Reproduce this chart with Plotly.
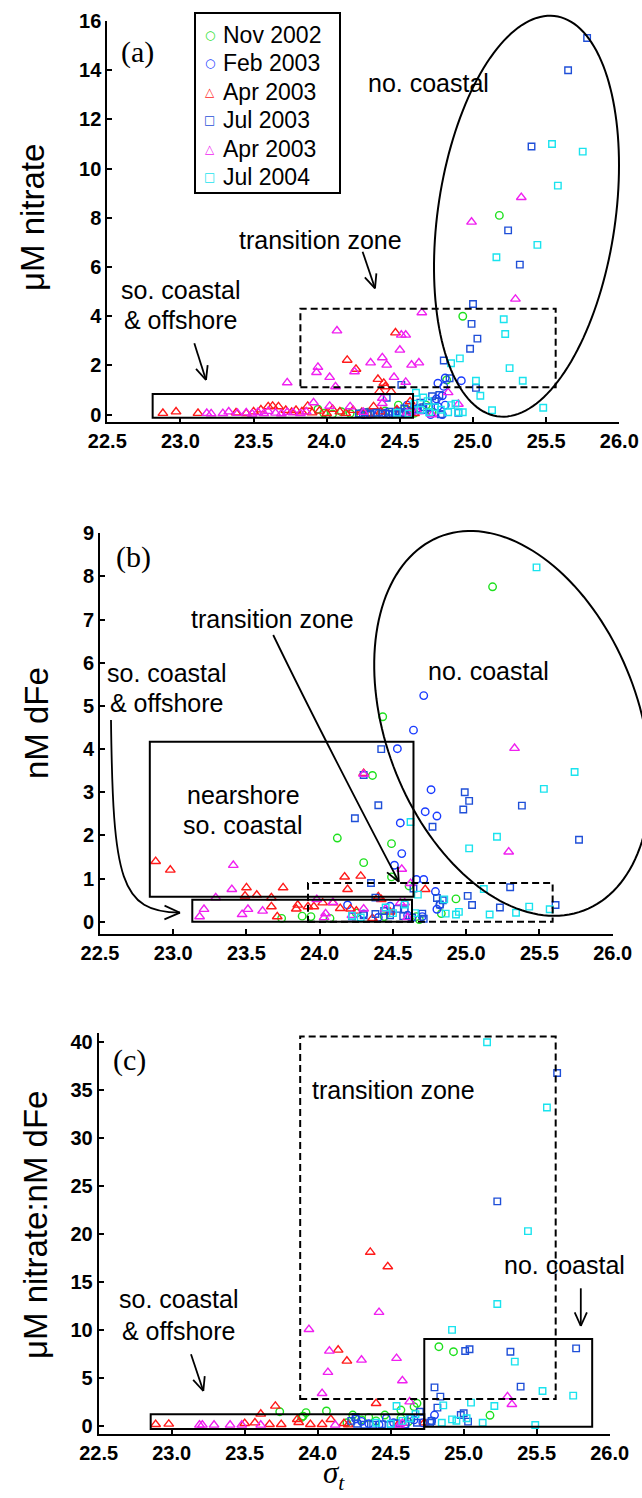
import numpy as np
import plotly.graph_objects as go

W, H = 642, 1498

# ---------------- data ----------------
x_ticks = [22.5, 23.0, 23.5, 24.0, 24.5, 25.0, 25.5, 26.0]
x_ticktext = ["22.5", "23.0", "23.5", "24.0", "24.5", "25.0", "25.5", "26.0"]
a_yticks = [0, 2, 4, 6, 8, 10, 12, 14, 16]
b_yticks = [0, 1, 2, 3, 4, 5, 6, 7, 8, 9]
c_yticks = [0, 5, 10, 15, 20, 25, 30, 35, 40]

series_names = ["Nov 2002", "Feb 2003", "Apr 2003", "Jul 2003", "Apr 2003", "Jul 2004"]

# panel (a): sigma_t vs uM nitrate
a_nov_x = [25.18, 24.93, 24.82, 24.49, 24.68, 23.94, 23.98, 24.04, 24.10, 24.16, 24.23, 24.28, 24.33, 24.40, 24.45, 24.55, 24.60, 24.72]
a_nov_y = [8.10, 4.00, 1.41, 0.39, 0.39, 0.22, 0.06, 0.03, 0.12, 0.05, 0.04, 0.10, 0.08, 0.15, 0.02, 0.20, 0.06, 0.10]
a_feb_x = [24.92, 24.76, 24.81, 24.80, 24.79, 24.75, 24.81, 24.76, 24.71, 24.79, 24.55, 24.62, 24.30, 24.36, 24.42, 24.48, 24.52, 24.58, 24.66, 24.25, 24.40, 24.50]
a_feb_y = [1.38, 1.28, 1.49, 1.15, 0.77, 0.64, 0.39, 0.33, 0.00, 0.00, 0.39, 0.25, 0.05, 0.10, 0.02, 0.15, 0.08, 0.12, 0.20, 0.00, 0.06, 0.03]
a_apr_x = [24.47, 24.14, 24.20, 24.35, 24.40, 24.36, 24.44, 24.57, 24.39, 22.88, 22.97, 23.12, 23.38, 23.45, 23.50, 23.55, 23.60, 23.63, 23.67, 23.72, 23.76, 23.79, 23.83, 23.87, 23.90, 23.95, 24.00, 24.04, 24.09, 24.13, 24.18, 24.24, 24.28, 24.32, 24.37, 24.48, 24.56, 24.60]
a_apr_y = [3.33, 2.22, 1.85, 1.44, 1.14, 0.94, 0.94, 0.53, 1.28, 0.06, 0.12, 0.06, 0.08, 0.05, 0.12, 0.20, 0.33, 0.35, 0.33, 0.18, 0.10, 0.18, 0.12, 0.35, 0.08, 0.15, 0.05, 0.22, 0.12, 0.06, 0.18, 0.10, 0.04, 0.33, 0.12, 0.20, 0.16, 0.05]
a_jul03_x = [25.78, 25.65, 25.40, 25.24, 25.32, 25.00, 24.99, 25.03, 24.98, 24.80, 25.02, 24.84, 24.51, 24.41, 24.90, 24.78, 24.77, 24.72, 24.64, 24.70, 24.74, 24.22, 24.26, 24.30, 24.34, 24.38, 24.43, 24.47, 24.50, 24.54, 24.58, 24.62, 24.66, 24.28, 24.45, 24.53]
a_jul03_y = [15.31, 14.00, 10.90, 7.49, 6.10, 4.50, 3.69, 3.09, 2.68, 2.20, 1.09, 1.48, 1.21, 0.69, 0.08, 0.02, 0.80, 0.75, 0.49, 0.30, 0.55, 0.05, 0.10, 0.02, 0.08, 0.04, 0.12, 0.06, 0.10, 0.03, 0.15, 0.20, 0.30, 0.00, 0.02, 0.25]
a_apr2_x = [25.33, 24.99, 25.29, 24.65, 24.07, 24.51, 24.54, 24.50, 24.38, 24.30, 24.41, 24.58, 24.63, 23.94, 23.93, 24.02, 24.19, 24.46, 24.54, 24.06, 23.73, 24.83, 24.38, 23.91, 24.90, 24.72, 23.18, 23.21, 23.29, 23.33, 23.39, 23.45, 23.49, 23.53, 23.57, 23.60, 23.65, 23.69, 23.73, 23.77, 23.82, 23.86, 24.02, 24.16, 24.25, 24.38, 24.55, 24.62]
a_apr2_y = [8.83, 7.83, 4.70, 4.15, 3.41, 3.24, 3.24, 2.63, 2.32, 2.11, 2.02, 2.02, 2.11, 1.93, 1.72, 1.52, 1.75, 1.52, 1.32, 1.14, 1.30, 0.90, 0.67, 0.49, 0.43, 0.00, 0.06, 0.04, 0.05, 0.12, 0.06, 0.08, 0.03, 0.10, 0.05, 0.14, 0.07, 0.04, 0.10, 0.08, 0.05, 0.12, 0.35, 0.33, 0.10, 0.46, 0.08, 0.12]
a_jul04_x = [25.54, 25.75, 25.58, 25.44, 25.16, 25.21, 25.22, 24.91, 24.85, 25.25, 25.34, 25.02, 25.05, 25.13, 25.48, 24.61, 24.66, 24.85, 24.83, 24.90, 24.93, 24.69, 24.74, 24.60, 24.64, 24.70, 24.56, 24.48, 24.78, 24.88]
a_jul04_y = [11.00, 10.69, 9.31, 6.90, 6.40, 3.88, 3.28, 2.29, 2.09, 1.89, 1.38, 1.38, 0.77, 0.18, 0.28, 0.89, 0.70, 0.39, 0.10, 0.10, 0.10, 0.55, 0.30, 0.45, 0.20, 0.10, 0.05, 0.08, 0.20, 0.45]

# panel (b): sigma_t vs nM dFe
b_nov_x = [25.18, 24.43, 24.36, 24.12, 24.49, 24.30, 24.49, 24.61, 24.93, 24.83, 24.66, 23.74, 23.88, 23.94, 24.07, 24.25, 24.44, 24.68]
b_nov_y = [7.76, 4.75, 3.39, 1.94, 1.81, 1.37, 1.04, 0.83, 0.53, 0.19, 0.12, 0.08, 0.13, 0.12, 0.08, 0.20, 0.12, 0.05]
b_feb_x = [24.71, 24.64, 24.53, 24.76, 24.72, 24.80, 24.55, 24.56, 24.51, 24.66, 24.71, 24.79, 24.80, 24.70, 24.48, 24.19, 24.82, 24.40, 24.30, 24.60]
b_feb_y = [5.24, 4.44, 4.01, 3.06, 2.55, 2.45, 2.29, 1.58, 1.31, 0.98, 0.98, 0.70, 0.29, 0.12, 0.36, 0.39, 0.39, 0.10, 0.18, 0.15]
b_apr_x = [22.88, 22.98, 23.50, 23.75, 23.49, 23.57, 23.67, 23.67, 23.71, 23.85, 23.84, 23.92, 23.96, 24.02, 24.09, 24.14, 24.17, 24.28, 24.19, 24.21, 24.30, 24.40, 24.72, 24.36, 24.48, 24.25, 24.42]
b_apr_y = [1.40, 1.20, 0.79, 0.79, 0.60, 0.62, 0.56, 0.35, 0.12, 0.39, 0.30, 0.35, 0.35, 0.44, 0.44, 0.31, 1.04, 1.06, 0.75, 0.30, 3.44, 0.58, 0.75, 0.08, 0.23, 0.25, 0.52]
b_jul03_x = [24.42, 24.30, 24.40, 24.24, 24.77, 24.99, 25.02, 24.98, 25.38, 25.77, 25.30, 25.61, 25.23, 25.01, 25.04, 24.80, 24.84, 24.82, 24.64, 24.71, 24.35, 24.38, 24.57, 24.70, 24.58, 24.53, 24.48, 24.38, 24.30, 24.22, 24.44, 24.63]
b_jul03_y = [4.00, 3.40, 2.70, 2.40, 2.20, 3.00, 2.80, 2.60, 2.69, 1.90, 0.80, 0.39, 0.33, 0.60, 0.39, 0.55, 0.50, 0.40, 0.77, 0.07, 0.90, 0.56, 0.13, 0.19, 0.29, 0.30, 0.15, 0.18, 0.15, 0.12, 0.25, 0.10]
b_apr2_x = [25.33, 25.29, 24.56, 24.62, 24.30, 23.41, 23.40, 23.29, 23.21, 23.18, 23.51, 23.47, 23.61, 23.98, 24.09, 24.04, 24.03, 24.55, 24.58, 24.30, 24.22, 24.45, 24.60]
b_apr2_y = [4.02, 1.62, 1.22, 0.89, 3.42, 1.31, 0.75, 0.56, 0.29, 0.12, 0.29, 0.17, 0.25, 0.52, 0.45, 0.19, 0.10, 0.44, 0.44, 0.30, 0.15, 0.30, 0.10]
b_jul04_x = [25.48, 25.74, 25.53, 25.21, 25.02, 24.62, 25.12, 25.43, 25.57, 25.34, 25.16, 24.95, 24.93, 24.86, 24.67, 24.85, 24.22, 24.28, 24.50, 24.45, 24.58, 24.65]
b_jul04_y = [8.21, 3.47, 3.08, 1.97, 1.70, 2.31, 0.76, 0.35, 0.29, 0.21, 0.17, 0.23, 0.17, 0.19, 0.63, 0.52, 0.14, 0.10, 0.20, 0.33, 0.40, 0.20]

# panel (c): sigma_t vs nitrate:dFe ratio
c_nov_x = [24.83, 24.93, 25.18, 24.68, 24.66, 23.74, 23.92, 23.90, 23.89, 24.06, 24.24, 24.35, 24.46, 24.57, 24.57, 24.40, 24.30, 24.62, 24.20]
c_nov_y = [8.24, 7.72, 1.08, 2.33, 1.98, 1.46, 1.36, 1.00, 0.87, 1.53, 1.11, 0.87, 1.11, 1.63, 0.77, 0.50, 0.60, 0.40, 0.30]
c_feb_x = [24.80, 24.47, 24.26, 24.72, 24.35, 24.52, 24.60, 24.30, 24.42, 24.66, 24.78]
c_feb_y = [1.11, 0.77, 0.70, 0.30, 0.20, 0.30, 0.15, 0.45, 0.10, 0.60, 0.50]
c_apr_x = [24.36, 24.48, 24.14, 24.20, 24.40, 23.71, 23.61, 24.09, 23.86, 23.87, 22.89, 22.98, 23.50, 23.57, 23.67, 23.75, 23.95, 24.03, 24.18, 24.21, 24.73, 24.55]
c_apr_y = [18.1, 16.6, 7.9, 6.75, 2.33, 2.05, 1.22, 0.66, 0.66, 0.35, 0.14, 0.17, 0.24, 0.31, 0.14, 0.14, 0.14, 0.14, 0.24, 0.10, 0.31, 0.10]
c_jul03_x = [25.64, 25.23, 25.32, 25.01, 25.04, 25.77, 25.39, 24.80, 24.84, 24.82, 24.98, 25.00, 25.03, 24.78, 24.77, 24.70, 24.64, 24.23, 24.27, 24.32, 24.38, 24.44, 24.50, 24.54, 24.60, 24.68, 24.26]
c_jul03_y = [36.8, 23.4, 7.72, 7.79, 7.97, 8.07, 4.07, 4.00, 3.03, 1.88, 1.11, 1.29, 0.42, 0.49, 0.31, 1.46, 0.77, 0.50, 0.20, 0.10, 0.10, 0.15, 0.10, 0.25, 0.10, 0.30, 0.90]
c_apr2_x = [23.94, 24.08, 24.30, 24.42, 24.54, 24.58, 24.07, 24.03, 24.63, 25.30, 25.33, 23.19, 23.21, 23.29, 23.40, 23.48, 23.61, 24.12, 24.56, 24.58]
c_apr2_y = [10.05, 7.79, 6.85, 11.83, 7.03, 4.70, 5.57, 3.37, 2.50, 3.03, 2.23, 0.07, 0.07, 0.07, 0.07, 0.07, 0.07, 0.07, 0.07, 0.25]
c_jul04_x = [25.16, 25.57, 25.44, 25.23, 24.92, 25.35, 25.54, 25.75, 25.05, 25.21, 24.86, 24.54, 25.49, 25.13, 24.92, 24.95, 24.85, 25.02, 24.63, 24.67, 24.50, 24.40, 24.58]
c_jul04_y = [40.0, 33.2, 20.3, 12.7, 10.0, 6.68, 3.62, 3.13, 2.40, 2.05, 2.12, 2.05, 0.07, 0.31, 0.66, 0.52, 0.31, 0.77, 0.77, 1.20, 0.20, 0.30, 0.50]

# ---------------- styles ----------------
styles = [
    dict(symbol="circle-open", color="#1ee01e", size=7.5, glyph="○"),
    dict(symbol="circle-open", color="#1a3cff", size=7.5, glyph="○"),
    dict(symbol="triangle-up-open", color="#ff1a1a", size=8.5, glyph="△"),
    dict(symbol="square-open", color="#1f4fd8", size=6.5, glyph="□"),
    dict(symbol="triangle-up-open", color="#f020f0", size=8.5, glyph="△"),
    dict(symbol="square-open", color="#19e3ee", size=6.5, glyph="□"),
]

panels = [
    ("", [(a_nov_x, a_nov_y), (a_feb_x, a_feb_y), (a_apr_x, a_apr_y), (a_jul03_x, a_jul03_y), (a_apr2_x, a_apr2_y), (a_jul04_x, a_jul04_y)]),
    ("2", [(b_nov_x, b_nov_y), (b_feb_x, b_feb_y), (b_apr_x, b_apr_y), (b_jul03_x, b_jul03_y), (b_apr2_x, b_apr2_y), (b_jul04_x, b_jul04_y)]),
    ("3", [(c_nov_x, c_nov_y), (c_feb_x, c_feb_y), (c_apr_x, c_apr_y), (c_jul03_x, c_jul03_y), (c_apr2_x, c_apr2_y), (c_jul04_x, c_jul04_y)]),
]

# plot-area pixel boxes (left, right, top, bottom)
boxes = [(107.3, 619.3, 21.0, 422.3), (100.0, 612.7, 533.3, 934.3), (98.7, 609.7, 1032.7, 1434.3)]
yranges = [[-0.31, 16], [-0.29, 9], [-0.9, 41]]
ytickss = [a_yticks, b_yticks, c_yticks]

fig = go.Figure()
for pi, (suf, data) in enumerate(panels):
    for si, (xs, ys) in enumerate(data):
        st = styles[si]
        fig.add_trace(go.Scatter(
            x=xs, y=ys, mode="markers", name=series_names[si],
            xaxis="x" + suf, yaxis="y" + suf,
            showlegend=False,
            marker=dict(symbol=st["symbol"], size=st["size"], color=st["color"],
                        line=dict(color=st["color"], width=1.4)),
        ))

tickfont = dict(family="Liberation Sans", size=20, color="black", weight="bold")
layout = dict(
    width=W, height=H, autosize=False,
    margin=dict(l=0, r=0, t=0, b=0),
    paper_bgcolor="white", plot_bgcolor="white",
    showlegend=False,
)
for pi, (suf, _) in enumerate(panels):
    l, r, t, b = boxes[pi]
    common = dict(showline=True, linecolor="black", linewidth=2, ticks="inside",
                  ticklen=5, tickwidth=1.5, tickcolor="black", showgrid=False,
                  zeroline=False, tickfont=tickfont, automargin=False)
    layout["xaxis" + suf] = dict(common, domain=[l / W, r / W], range=[22.5, 26.0],
                                 tickvals=x_ticks, ticktext=x_ticktext,
                                 anchor="y" + suf)
    layout["yaxis" + suf] = dict(common, domain=[1 - b / H, 1 - t / H], range=yranges[pi],
                                 tickvals=ytickss[pi], anchor="x" + suf)
fig.update_layout(**layout)


# ---------------- annotation geometry (pixels -> paper) ----------------
def P(px, py):
    return px / W, 1 - py / H


shapes = []
annos = []


def seg(p0, p1, w=1.8):
    x0, y0 = P(*p0)
    x1, y1 = P(*p1)
    shapes.append(dict(type="line", xref="paper", yref="paper", x0=x0, y0=y0, x1=x1, y1=y1,
                       line=dict(color="black", width=w)))


def head(tip, frm, L=15, ang=24):
    d = np.array(tip) - np.array(frm)
    d = d / np.hypot(*d)
    for s in (1, -1):
        a = np.radians(ang) * s
        rot = np.array([[np.cos(a), -np.sin(a)], [np.sin(a), np.cos(a)]])
        back = rot @ (-d) * L
        seg(tip, (tip[0] + back[0], tip[1] + back[1]))


def arrow(p0, p1, L=15):
    seg(p0, p1)
    head(p1, p0, L)


def bez_arrow(pts, L=15):
    coords = [P(*p) for p in pts]
    if len(pts) == 3:
        path = "M {},{} Q {},{} {},{}".format(*np.ravel(coords))
    else:
        path = "M {},{} C {},{} {},{} {},{}".format(*np.ravel(coords))
    shapes.append(dict(type="path", xref="paper", yref="paper", path=path,
                       line=dict(color="black", width=1.8)))
    head(pts[-1], pts[-2], L)


def ellipse(c, A, B):
    t = np.linspace(0, 2 * np.pi, 160)
    xs = c[0] + A[0] * np.cos(t) + B[0] * np.sin(t)
    ys = c[1] + A[1] * np.cos(t) + B[1] * np.sin(t)
    pts = [P(x, y) for x, y in zip(xs, ys)]
    path = "M " + " L ".join("{:.5f},{:.5f}".format(*p) for p in pts) + " Z"
    shapes.append(dict(type="path", xref="paper", yref="paper", path=path,
                       line=dict(color="black", width=2)))


def rect(suf, x0, x1, y0, y1, dashed=False):
    shapes.append(dict(type="rect", xref="x" + suf, yref="y" + suf, x0=x0, x1=x1, y0=y0, y1=y1,
                       line=dict(color="black", width=2, dash="7px,4px" if dashed else "solid")))


def text(px, py, s, size=25, family="Liberation Sans", angle=0, color="black",
         xanchor="center", yanchor="middle"):
    x, y = P(px, py)
    annos.append(dict(x=x, y=y, xref="paper", yref="paper", text=s, showarrow=False,
                      xanchor=xanchor, yanchor=yanchor, textangle=angle, borderpad=0,
                      font=dict(family=family, size=size, color=color)))


# legend box (panel a)
x0, y0 = P(195, 13)
x1, y1 = P(340, 193)
shapes.append(dict(type="rect", xref="paper", yref="paper", x0=x0, y0=y1, x1=x1, y1=y0,
                   fillcolor="white", line=dict(color="black", width=2), layer="above"))
legend_rows = [35.0, 63.5, 92.0, 120.5, 149.0, 177.5]
for si, name in enumerate(series_names):
    st = styles[si]
    text(209.5, legend_rows[si], st["glyph"], size=12, family="DejaVu Sans", color=st["color"])
    text(222.0, legend_rows[si], name, size=23, xanchor="left")

# panel (a)
rect("", 22.81, 24.59, -0.12, 0.84)
rect("", 23.82, 25.565, 1.11, 4.31, dashed=True)
ellipse((526.5, 216.2), (92.5, -50.9), (0.0, 193.9))
arrow((362.6, 251.7), (375.0, 288.3))
arrow((194.3, 343.3), (206.0, 380.0))
text(137.6, 51.7, "(a)", size=30, family="Liberation Serif")
text(428.3, 82.7, "no. coastal")
text(320.0, 240.0, "transition zone")
text(180.7, 290.0, "so. coastal")
text(180.7, 320.0, "&amp; offshore")
text(33.0, 218.0, "μM nitrate", size=33, angle=-90)

# panel (b)
rect("2", 22.84, 24.64, 0.58, 4.17)
rect("2", 23.13, 24.63, 0.0, 0.51)
rect("2", 23.92, 25.59, 0.0, 0.90, dashed=True)
ellipse((512.3, 723.4), (138.1, 58.5), (0.0, 183.3))
bez_arrow([(273.2, 635.0), (318.4, 728.3), (398.8, 881.7)])
bez_arrow([(111.0, 720.0), (113.0, 880.0), (120.0, 912.0), (180.0, 912.7)], L=17)
text(133.0, 556.7, "(b)", size=30, family="Liberation Serif")
text(272.0, 619.0, "transition zone")
text(488.8, 670.7, "no. coastal")
text(166.5, 672.7, "so. coastal")
text(166.5, 703.3, "&amp; offshore")
text(243.4, 795.0, "nearshore")
text(243.4, 825.0, "so. coastal")
text(36.0, 723.0, "nM dFe", size=33, angle=-90)

# panel (c)
rect("3", 23.88, 25.63, 2.78, 40.6, dashed=True)
rect("3", 24.73, 25.88, -0.1, 9.04)
rect("3", 22.856, 24.73, -0.35, 1.18)
arrow((580.8, 1288.3), (580.8, 1326.0))
arrow((191.0, 1354.3), (203.3, 1391.0))
text(129.6, 1060.0, "(c)", size=30, family="Liberation Serif")
text(393.9, 1090.0, "transition zone")
text(564.4, 1265.0, "no. coastal")
text(178.7, 1299.3, "so. coastal")
text(178.7, 1330.7, "&amp; offshore")
text(35.0, 1225.0, "μM nitrate:nM dFe", size=33, angle=-90)
text(334.0, 1496.0, "<i>σ</i><sub><i>t</i></sub>", size=31, family="Liberation Serif",
     yanchor="bottom")

fig.update_layout(shapes=shapes, annotations=annos)
fig.write_html("out.html")
